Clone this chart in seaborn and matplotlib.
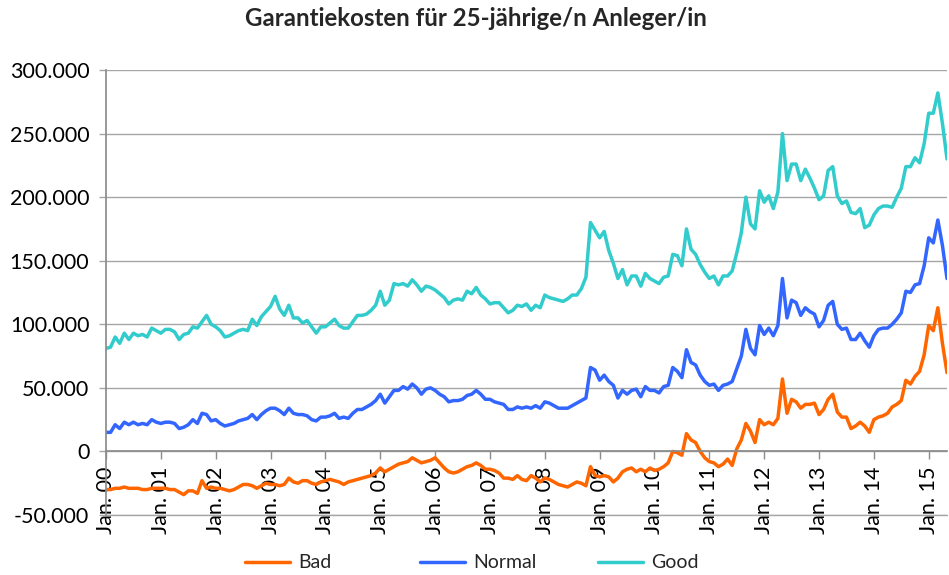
import matplotlib
matplotlib.use("Agg")
import matplotlib.pyplot as plt
import seaborn as sns
import pandas as pd
from matplotlib.ticker import FuncFormatter, FixedLocator

# ---- data (values in thousand EUR, monthly from Jan 2000) ----
bad = [-30, -30, -29, -29, -28, -29, -29, -29, -30, -30, -29, -29,
       -29, -29, -30, -30, -32, -34, -31, -31, -33, -23, -29, -28,
       -29, -29, -30, -31, -30, -28, -26, -26, -27, -29, -27, -25,
       -26, -26, -27, -26, -21, -24, -25, -23, -23, -25, -26, -24,
       -23, -22, -23, -24, -26, -24, -23, -22, -21, -20, -19, -17,
       -13, -16, -14, -12, -10, -9, -8, -5, -7, -9, -8, -7,
       -5, -9, -13, -16, -17, -16, -14, -12, -11, -9, -11, -14,
       -14, -15, -17, -21, -21, -22, -19, -22, -23, -19, -21, -24,
       -21, -22, -24, -26, -27, -28, -26, -24, -25, -27, -12, -19,
       -20, -19, -20, -24, -21, -16, -14, -13, -16, -14, -16, -13,
       -15, -14, -12, -9, 0, -1, -3, 14, 9, 7, 0, -5,
       -8, -9, -12, -10, -6, -11, 2, 9, 22, 16, 7, 25,
       21, 23, 21, 26, 57, 30, 41, 39, 34, 37, 37, 38,
       29, 33, 41, 45, 31, 27, 27, 18, 20, 23, 20, 15,
       25, 27, 28, 30, 35, 37, 40, 56, 53, 59, 63, 76,
       99, 95, 113, 85, 62]

normal = [15, 15, 21, 18, 23, 21, 23, 21, 22, 21, 25, 23,
          22, 23, 23, 22, 18, 19, 21, 25, 22, 30, 29, 24,
          25, 22, 20, 21, 22, 24, 25, 26, 29, 25, 29, 32,
          34, 34, 32, 29, 34, 30, 29, 29, 28, 25, 24, 27,
          27, 28, 30, 26, 27, 26, 30, 33, 33, 35, 37, 40,
          45, 38, 43, 48, 48, 51, 49, 53, 50, 45, 49, 50,
          48, 45, 43, 39, 40, 40, 41, 44, 45, 48, 45, 41,
          41, 39, 38, 37, 33, 33, 35, 34, 35, 34, 36, 34,
          39, 38, 36, 34, 34, 34, 36, 38, 40, 42, 66, 64,
          56, 60, 55, 52, 42, 48, 45, 48, 49, 43, 51, 48,
          48, 46, 51, 52, 66, 63, 58, 80, 70, 68, 60, 55,
          52, 53, 48, 52, 53, 55, 65, 75, 96, 81, 76, 99,
          92, 97, 91, 99, 136, 105, 119, 117, 107, 113, 110, 108,
          98, 103, 115, 118, 100, 96, 97, 88, 88, 93, 87, 82,
          91, 96, 97, 97, 100, 104, 109, 126, 125, 131, 132, 146,
          168, 164, 182, 162, 136]

good = [81, 82, 90, 85, 93, 88, 93, 91, 92, 90, 97, 95,
        93, 96, 96, 94, 88, 92, 93, 98, 97, 102, 107, 100,
        98, 95, 90, 91, 93, 95, 96, 95, 104, 99, 106, 110,
        114, 122, 112, 107, 115, 105, 105, 101, 103, 98, 93, 98,
        98, 101, 104, 99, 97, 97, 102, 107, 107, 108, 111, 115,
        126, 115, 119, 132, 131, 132, 130, 135, 131, 126, 130, 129,
        127, 124, 121, 116, 119, 120, 119, 126, 124, 129, 123, 120,
        116, 117, 117, 113, 109, 111, 115, 114, 116, 111, 115, 113,
        123, 121, 120, 119, 118, 120, 123, 123, 128, 137, 180, 174,
        168, 173, 158, 148, 136, 143, 131, 138, 138, 130, 140, 136,
        134, 132, 137, 138, 155, 154, 146, 175, 159, 155, 147, 141,
        136, 138, 131, 138, 138, 142, 156, 172, 200, 179, 175, 205,
        196, 201, 191, 204, 250, 213, 226, 226, 213, 222, 215, 207,
        198, 201, 221, 224, 201, 195, 197, 188, 187, 191, 176, 178,
        186, 191, 193, 193, 192, 200, 207, 224, 224, 231, 227, 242,
        266, 266, 282, 258, 230]

series_names = ["Bad", "Normal", "Good"]
series_colors = ["#FF6600", "#3366FF", "#33CCCC"]
tick_labels = ["Jan. %02d" % y for y in range(0, 16)]
y_ticks = [-50000, 0, 50000, 100000, 150000, 200000, 250000, 300000]
title = "Garantiekosten für 25-jährige/n Anleger/in"

rows = []
for name, vals in zip(series_names, [bad, normal, good]):
    for i, v in enumerate(vals):
        rows.append({"month": i, "value": v * 1000, "series": name})
df = pd.DataFrame(rows)

sns.set_theme(style="white")
plt.rcParams["font.family"] = ["Lato", "DejaVu Sans"]

fig = plt.figure(figsize=(9.49, 5.75), dpi=100)
ax = fig.add_axes([106 / 949, 1 - 515 / 575, 841 / 949, 445 / 575])

sns.lineplot(data=df, x="month", y="value", hue="series",
             hue_order=series_names, palette=series_colors,
             linewidth=2.5, ax=ax, legend=True)

ax.spines["bottom"].set_position(("data", 0))
ax.spines["bottom"].set_color("#8C8C8C")
ax.spines["left"].set_color("#8C8C8C")
ax.spines["top"].set_visible(False)
ax.spines["right"].set_visible(False)

ax.set_xlim(0, 184)
ax.set_ylim(-50000, 300000)
ax.yaxis.set_major_locator(FixedLocator(y_ticks))
ax.yaxis.set_major_formatter(FuncFormatter(
    lambda v, p: "{:,.0f}".format(v).replace(",", ".")))
ax.grid(axis="y", color="#A6A6A6", linewidth=1.0)
ax.set_axisbelow(True)
ax.axhline(-50000, color="#A6A6A6", linewidth=1.0, zorder=0.5, clip_on=False)

ax.set_xticks(list(range(0, 181, 12)))
ax.set_xticklabels(tick_labels)
ax.tick_params(axis="x", direction="out", length=6, width=1, color="#8C8C8C",
               pad=5, bottom=True, labelrotation=90, labelsize=15.5,
               labelcolor="black")
ax.tick_params(axis="y", direction="out", length=5, width=1, color="#A6A6A6",
               labelsize=15.5, pad=7, left=True, labelcolor="black")
ax.set_xlabel("")
ax.set_ylabel("")

handles, labels = ax.get_legend_handles_labels()
ax.get_legend().remove()
legend_x = [245, 420, 598]
for h, l, lx in zip(handles, labels, legend_x):
    leg = fig.legend([h], [l], loc="center left",
                     bbox_to_anchor=(lx / 949, 1 - 563 / 575),
                     frameon=False, fontsize=14, handlelength=2.3,
                     handletextpad=0.45, borderpad=0, borderaxespad=0)

fig.text(476 / 949, 1 - 19 / 575, title, ha="center", va="center",
         fontsize=17.3, fontweight="bold")

fig.savefig("out.png", dpi=100)
